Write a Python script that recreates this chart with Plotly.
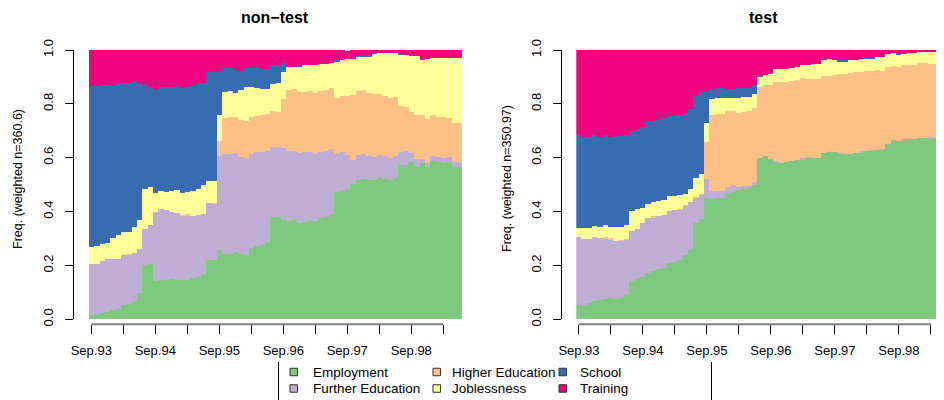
import plotly.graph_objects as go

# The page body has an 8 px margin, so the figure is sized to fit the 944x400 window.
WIN_W, WIN_H = 944, 400
OFF = 8
W, H = WIN_W - OFF, WIN_H - OFF

months = list(range(1, 71))
tick_vals = [1, 7, 13, 19, 25, 31, 37, 43, 49, 55, 61, 67]
tick_text = ["Sep.93", "", "Sep.94", "", "Sep.95", "", "Sep.96", "", "Sep.97", "", "Sep.98", ""]
y_vals = [0, 0.2, 0.4, 0.6, 0.8, 1.0]
y_text = ["0.0", "0.2", "0.4", "0.6", "0.8", "1.0"]

states = ["Employment", "Further Education", "Higher Education", "Joblessness", "School", "Training"]
colors = ["#7FC97F", "#BEAED4", "#FDC086", "#FFFF99", "#386CB0", "#F0027F"]

# ---- non-test group ----
E_nt = [.016,.016,.024,.027,.033,.038,.053,.057,.068,.098,
        .202,.205,.142,.145,.145,.150,.145,.145,.145,.152,
        .157,.165,.220,.220,.257,.243,.243,.250,.243,.239,
        .265,.272,.276,.283,.380,.380,.369,.365,.369,.358,
        .361,.365,.365,.376,.380,.391,.473,.476,.484,.502,
        .517,.521,.517,.517,.528,.521,.517,.525,.573,.573,
        .584,.566,.580,.566,.588,.584,.580,.584,.566,.566]
FE_nt = [.189,.189,.193,.197,.191,.186,.186,.182,.178,.163,
         .134,.145,.256,.265,.261,.249,.251,.239,.241,.233,
         .231,.226,.212,.209,.349,.371,.371,.368,.360,.360,
         .349,.349,.345,.342,.260,.260,.267,.260,.256,.260,
         .260,.256,.249,.245,.245,.241,.141,.145,.126,.089,
         .093,.093,.089,.085,.082,.085,.082,.082,.048,.052,
         .033,.030,.015,.015,.019,.019,.019,.019,.019,.019]
HE_nt = [0,0,0,0,0,0,0,.004,0,0,
         0,0,0,0,0,0,0,.004,.004,0,
         0,0,0,.004,.056,.134,.137,.134,.137,.137,
         .137,.134,.137,.137,.134,.130,.182,.226,.230,.226,
         .223,.226,.226,.226,.226,.226,.208,.208,.219,.241,
         .238,.238,.234,.234,.226,.223,.223,.219,.171,.163,
         .152,.163,.163,.163,.152,.149,.152,.145,.145,.145]
J_nt = [.063,.067,.063,.059,.078,.089,.085,.082,.097,.108,
        .149,.141,.071,.067,.068,.079,.084,.082,.083,.093,
        .095,.108,.082,.080,.097,.097,.097,.089,.111,.126,
        .111,.104,.097,.093,.100,.108,.100,.085,.082,.093,
        .100,.097,.104,.100,.097,.093,.137,.134,.137,.134,
        .126,.123,.137,.152,.152,.160,.167,.163,.193,.193,
        .208,.219,.208,.223,.212,.219,.219,.223,.241,.241]
S_nt = [.598,.594,.590,.587,.564,.564,.553,.553,.542,.505,
        .386,.371,.382,.386,.389,.385,.385,.390,.390,.389,
        .390,.379,.405,.405,.160,.089,.085,.085,.071,.071,
        .071,.074,.074,.074,.071,.067,.033,0,0,.004,
        0,0,0,0,0,0,.004,.004,0,0,
        .004,.004,.004,.002,0,0,0,0,.002,0,
        0,0,.002,0,0,0,0,0,0,0]
T_nt = [.137,.137,.134,.134,.137,.126,.126,.126,.116,.126,
        .134,.141,.149,.137,.141,.137,.135,.145,.141,.137,
        .130,.126,.082,.082,.082,.071,.067,.078,.082,.067,
        .067,.071,.074,.074,.056,.056,.052,.067,.063,.063,
        .059,.059,.059,.056,.056,.052,.041,.033,.030,.033,
        .026,.026,.022,.012,.015,.015,.015,.015,.016,.022,
        .022,.026,.035,.033,.030,.033,.033,.033,.030,.030]

# ---- test group ----
E_t = [.053,.050,.061,.068,.072,.075,.079,.075,.079,.094,
       .142,.153,.157,.172,.179,.187,.191,.209,.213,.220,
       .239,.257,.358,.373,.450,.447,.450,.450,.469,.473,
       .480,.484,.488,.499,.599,.606,.595,.584,.580,.584,
       .588,.592,.595,.599,.599,.599,.618,.621,.621,.614,
       .614,.614,.618,.621,.625,.625,.629,.629,.651,.666,
       .662,.670,.670,.670,.673,.673,.673,.673,.677,.677]
FE_t = [.252,.249,.238,.238,.230,.225,.219,.215,.213,.202,
        .186,.182,.200,.204,.200,.197,.197,.193,.193,.186,
        .182,.178,.093,.089,.071,.030,.026,.026,.022,.026,
        .011,.011,.007,.011,0,0,0,.004,0,0,
        0,0,.004,.004,0,0,0,0,0,.004,
        0,0,0,.004,0,.004,0,.004,0,0,
        0,0,0,0,0,0,.004,0,0,0]
HE_t = [0,0,0,0,0,.004,.004,0,.004,.004,
        0,0,0,0,.004,0,0,0,0,.004,
        .004,0,.004,.004,.137,.282,.286,.286,.282,.275,
        .275,.275,.278,.275,.264,.264,.275,.293,.301,.297,
        .297,.297,.297,.290,.293,.293,.286,.282,.286,.293,
        .297,.301,.301,.293,.297,.293,.297,.290,.286,.275,
        .275,.275,.275,.275,.278,.278,.271,.275,.271,.271]
J_t = [.033,.041,.041,.041,.041,.046,.041,.052,.047,.051,
       .074,.074,.056,.052,.052,.056,.056,.056,.052,.052,
       .041,.048,.071,.074,.071,.059,.059,.059,.048,.048,
       .056,.056,.052,.052,.037,.037,.041,.048,.048,.048,
       .048,.048,.048,.052,.056,.056,.059,.063,.056,.048,
       .048,.048,.045,.048,.045,.045,.048,.052,.048,.048,
       .048,.041,.045,.045,.045,.045,.048,.048,.048,.048]
S_t = [.345,.338,.338,.338,.334,.334,.334,.338,.338,.334,
       .297,.297,.301,.303,.301,.301,.304,.297,.297,.297,
       .301,.297,.304,.304,.115,.037,.037,.037,.033,.033,
       .037,.033,.033,.033,.004,0,.004,0,0,0,
       0,0,0,0,0,0,0,0,0,.004,
       .004,0,0,0,.004,.004,0,0,0,0,
       .004,.004,0,0,0,0,0,0,0,0]
T_t = [.316,.327,.327,.319,.323,.316,.323,.323,.319,.319,
       .304,.297,.286,.272,.264,.260,.256,.249,.245,.241,
       .238,.219,.171,.156,.156,.145,.145,.145,.145,.145,
       .145,.141,.141,.130,.100,.093,.089,.071,.071,.071,
       .071,.063,.059,.059,.052,.052,.037,.033,.037,.041,
       .041,.037,.037,.037,.033,.033,.030,.030,.015,.011,
       .015,.015,.011,.011,.004,.007,.007,.007,.007,.007]

groups = [
    ("x", "y", [E_nt, FE_nt, HE_nt, J_nt, S_nt, T_nt]),
    ("x2", "y2", [E_t, FE_t, HE_t, J_t, S_t, T_t]),
]

FONT = "Liberation Sans, Arial, sans-serif"


def px(x):
    """window pixel x -> paper fraction"""
    return (x - OFF) / W


def py(y):
    """window pixel y -> paper fraction"""
    return 1 - (y - OFF) / H


fig = go.Figure()
for xa, ya, series in groups:
    for name, col, vals in zip(states, colors, series):
        fig.add_trace(go.Bar(
            x=months, y=vals, name=name, xaxis=xa, yaxis=ya,
            marker=dict(color=col, line=dict(width=0)),
            width=1.0, showlegend=False, hoverinfo="skip",
        ))

ydom = [py(319.3), py(50)]
xaxis_common = dict(
    anchor="free", position=py(324.3), tickmode="array", tickvals=tick_vals, ticktext=tick_text,
    ticks="outside", ticklen=9, tickwidth=1, tickcolor="black", showline=False, showgrid=False,
    zeroline=False, tickfont=dict(family=FONT, size=13, color="black"), ticklabelstandoff=5,
    automargin=False,
)
yaxis_common = dict(
    domain=ydom, range=[0, 1], anchor="free", tickmode="array", tickvals=y_vals, ticktext=y_text,
    ticks="outside", ticklen=8, tickwidth=1, tickcolor="black", showline=True, linecolor="black",
    linewidth=1, showgrid=False, zeroline=False, tickangle=-90,
    tickfont=dict(family=FONT, size=13, color="black"), ticklabelstandoff=7,
    automargin=False,
)

fig.update_layout(
    template="none",
    width=W, height=H, margin=dict(l=0, r=0, t=0, b=0, pad=0, autoexpand=False),
    paper_bgcolor="white", plot_bgcolor="white",
    barmode="stack", bargap=0, bargroupgap=0, showlegend=False,
    font=dict(family=FONT, size=13, color="black"),
    xaxis=dict(domain=[px(88.6), px(461.9)], range=[0.5, 70.5], **xaxis_common),
    xaxis2=dict(domain=[px(576.3), 1.0], range=[0.5, 0.5 + (WIN_W - 576.3) / 5.333], **xaxis_common),
    yaxis=dict(position=px(73.3), **yaxis_common),
    yaxis2=dict(position=px(561), **yaxis_common),
)

shapes = []
annotations = []
# x axis lines (from first to last tick)
for xr in ["x", "x2"]:
    shapes.append(dict(type="line", xref=xr, yref="paper", x0=tick_vals[0], x1=tick_vals[-1],
                       y0=py(324.3), y1=py(324.3), line=dict(color="#808080", width=2)))

# titles
annotations.append(dict(text="<b>non\u2212test</b>", x=px(275), y=py(17), xref="paper", yref="paper",
                        showarrow=False, font=dict(family=FONT, size=16, color="black"),
                        xanchor="center", yanchor="middle"))
annotations.append(dict(text="<b>test</b>", x=px(763), y=py(17), xref="paper", yref="paper",
                        showarrow=False, font=dict(family=FONT, size=16, color="black"),
                        xanchor="center", yanchor="middle"))
# y titles
annotations.append(dict(text="Freq. (weighted n=360.6)", x=px(18), y=py(179), xref="paper", yref="paper",
                        showarrow=False, textangle=-90, font=dict(family=FONT, size=12.5, color="black"),
                        xanchor="center", yanchor="middle"))
annotations.append(dict(text="Freq. (weighted n=350.97)", x=px(507), y=py(179), xref="paper", yref="paper",
                        showarrow=False, textangle=-90, font=dict(family=FONT, size=12.5, color="black"),
                        xanchor="center", yanchor="middle"))

# legend (3 columns x 2 rows)
leg_box_x = [290, 433, 559]
leg_text_x = [311, 450, 578]
leg_row_y = [372, 388.5]
order = [(0, 0), (0, 1), (1, 0), (1, 1), (2, 0), (2, 1)]
for (c, r), name, col in zip(order, states, colors):
    cy = leg_row_y[r]
    shapes.append(dict(type="rect", xref="paper", yref="paper",
                       x0=px(leg_box_x[c]), x1=px(leg_box_x[c] + 7.5),
                       y0=py(cy + 3.75), y1=py(cy - 3.75),
                       fillcolor=col, line=dict(color="#333333", width=1)))
    annotations.append(dict(text=name, x=px(leg_text_x[c]), y=py(cy), xref="paper", yref="paper",
                            showarrow=False, xanchor="left", yanchor="middle",
                            font=dict(family=FONT, size=13.5, color="black")))
for lx in [278.5, 711.5]:
    shapes.append(dict(type="line", xref="paper", yref="paper", x0=px(lx), x1=px(lx),
                       y0=py(362), y1=0, line=dict(color="black", width=1)))

fig.update_layout(shapes=shapes, annotations=annotations)
fig.write_html("out.html")
